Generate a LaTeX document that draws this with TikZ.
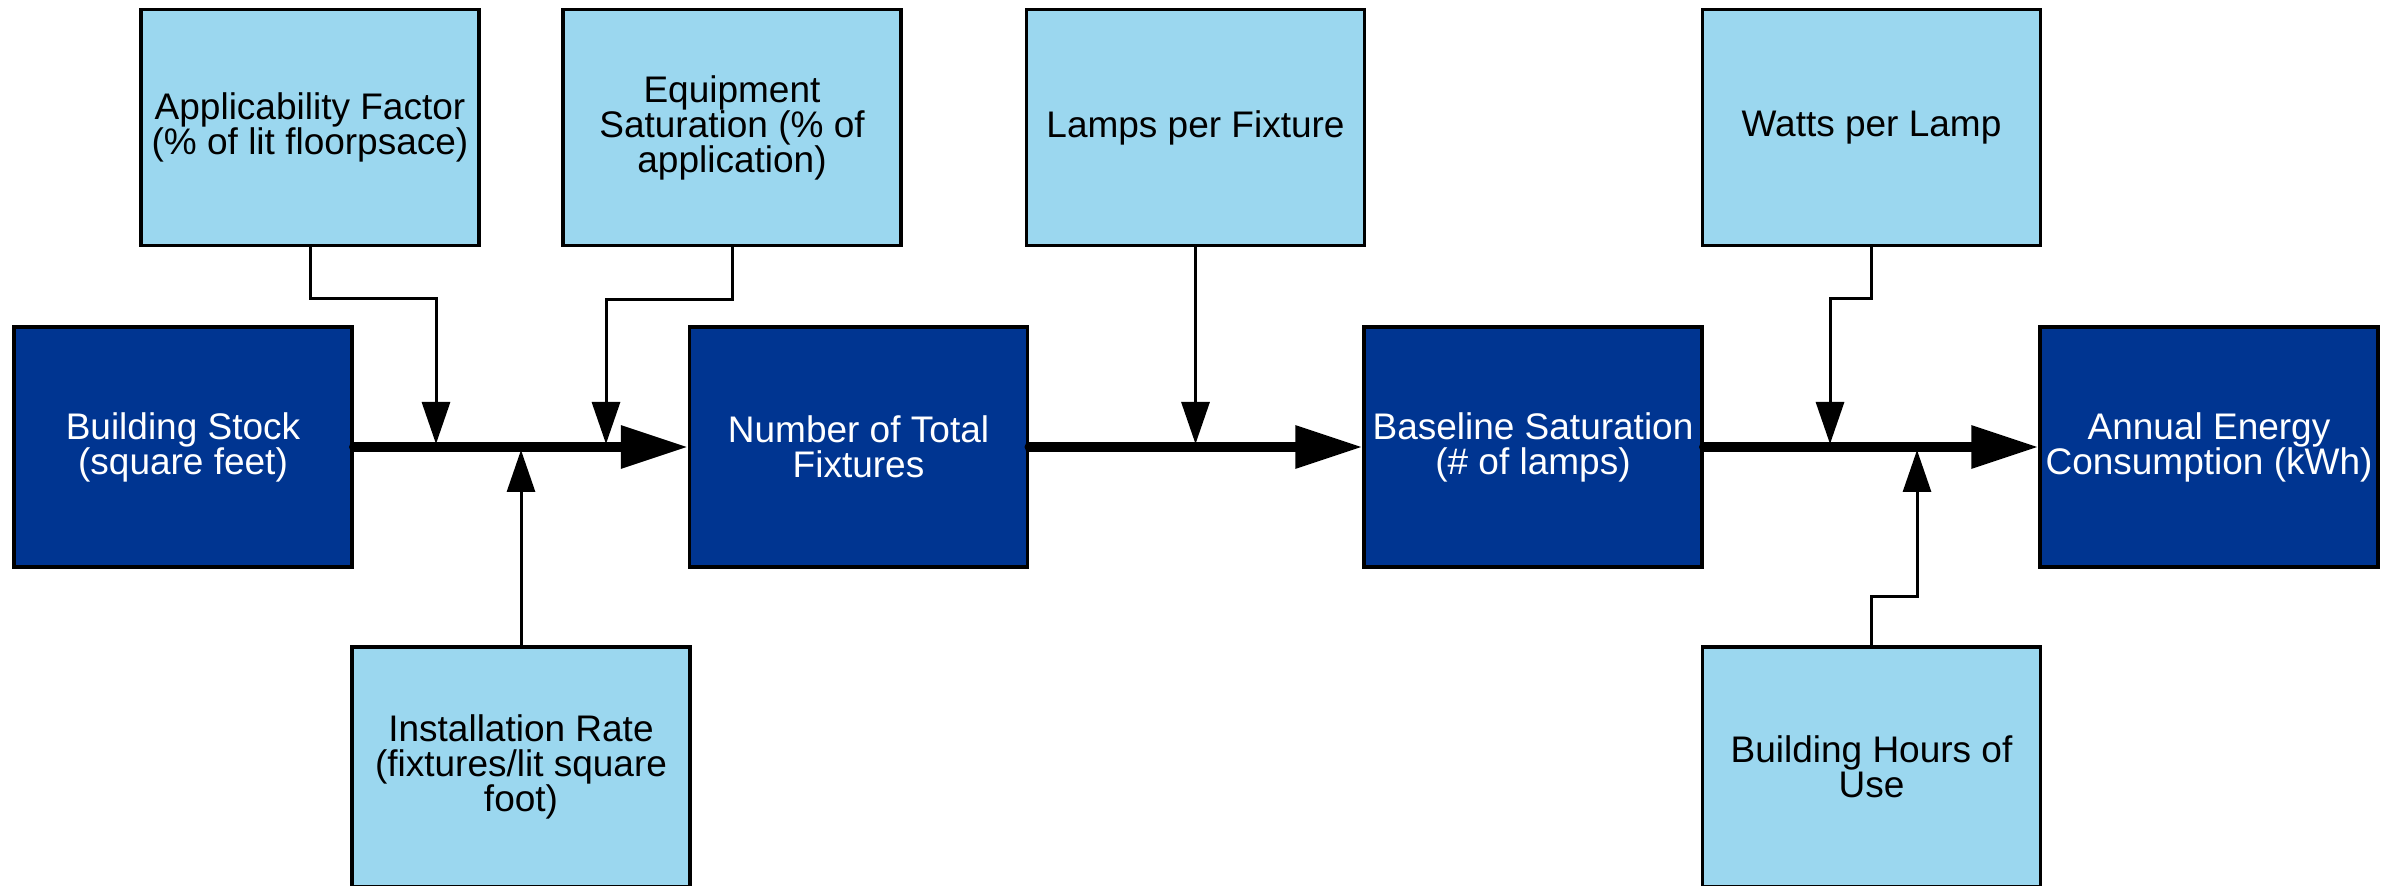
\documentclass[tikz,border=0pt]{standalone}
\usepackage{fontspec}
\setmainfont{Liberation Sans}
\usetikzlibrary{arrows.meta}
\definecolor{lightbox}{RGB}{155,215,239}
\definecolor{darkbox}{RGB}{0,53,145}
\begin{document}
\begin{tikzpicture}[x=0.5pt,y=-0.5pt,
  box/.style={draw=black, line width=1.75pt, minimum width=169pt, align=center, inner sep=0pt,
    font=\fontsize{18.5pt}{17.5pt}\selectfont},
  inbox/.style={box, fill=lightbox, text=black, minimum height=118pt},
  inboxlow/.style={box, fill=lightbox, text=black, minimum height=120pt},
  mainbox/.style={box, fill=darkbox, text=white, minimum height=120pt},
  flow/.style={line width=4.75pt, line cap=round, -{Triangle[length=33.5pt,width=20.5pt]}},
  feed/.style={line width=1.5pt, -{Triangle[length=21pt,width=14pt]}}]
\useasboundingbox (0,0) rectangle (2402,886);

% main chain
\node[mainbox] (bs) at (183,447) {Building Stock\\(square feet)};
\node[mainbox] (nf) at (858.5,447) {Number of Total\\Fixtures};
\node[mainbox] (bl) at (1533,447) {Baseline Saturation\\(\# of lamps)};
\node[mainbox] (ae) at (2209,447) {Annual Energy\\Consumption (kWh)};

% inputs above
\node[inbox] (af) at (310,127.5) {Applicability Factor\\(\% of lit floorpsace)};
\node[inbox] (es) at (732,127.5) {Equipment\\Saturation (\% of\\application)};
\node[inbox] (lf) at (1195.5,127.5) {Lamps per Fixture};
\node[inbox] (wl) at (1871.5,127.5) {Watts per Lamp};

% inputs below
\node[inboxlow] (ir) at (521,767) {Installation Rate\\(fixtures/lit square\\foot)};
\node[inboxlow] (bh) at (1871.5,767) {Building Hours of\\Use};

% junctions on the main line
\coordinate (j1) at (436,444);
\coordinate (j2) at (606,444);
\coordinate (j3) at (521,450);
\coordinate (j4) at (1195.5,444);
\coordinate (j5) at (1830,444);
\coordinate (j6) at (1917,450);

% main flows
\draw[flow] (bs.east) -- (nf.west);
\draw[flow] (nf.east) -- (bl.west);
\draw[flow] (bl.east) -- (ae.west);

% feeding connectors
\draw[feed] (af.south) -- ++(0,51) -| (j1);
\draw[feed] (es.south) -- ++(0,52) -| (j2);
\draw[feed] (ir.north) -- (j3);
\draw[feed] (lf.south) -- (j4);
\draw[feed] (wl.south) -- ++(0,51) -| (j5);
\draw[feed] (bh.north) -- ++(0,-49) -| (j6);
\end{tikzpicture}
\end{document}
